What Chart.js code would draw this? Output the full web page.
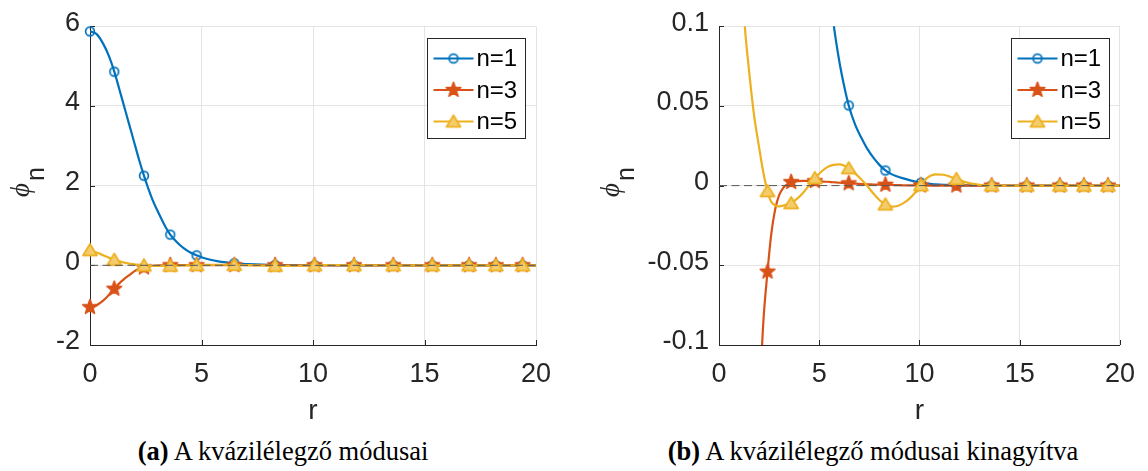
<!DOCTYPE html>
<html>
<head>
<meta charset="utf-8">
<script src="https://cdn.jsdelivr.net/npm/chart.js@4.4.1/dist/chart.umd.min.js"></script>
<style>
  html, body { margin: 0; padding: 0; background: #ffffff; }
  body { width: 1148px; height: 471px; position: relative; overflow: hidden; }
  .panel { position: absolute; top: 0; width: 574px; height: 432px; }
  #wrapA { left: 0; }
  #wrapB { left: 574px; }
  .cap {
    position: absolute; top: 436px; white-space: nowrap; color: #000;
    font-family: 'Liberation Serif', 'Times New Roman', serif; font-size: 26.5px;
    transform: translateX(-50%);
  }
  .cap b { font-weight: bold; }
</style>
</head>
<body>
<div class="panel" id="wrapA"><canvas id="chartA" width="574" height="432"></canvas></div>
<div class="panel" id="wrapB"><canvas id="chartB" width="574" height="432"></canvas></div>
<div class="cap" style="left:283px"><b>(a)</b> A kvázilélegző módusai</div>
<div class="cap" style="left:873px"><b>(b)</b> A kvázilélegző módusai kinagyítva</div>

<script>
// radial coordinate of the sampled profiles
const R = [
  0, 0.3, 0.6, 0.85, 1.09, 1.3, 1.5, 1.75, 2.0, 2.2,
  2.42, 2.6, 2.8, 3.0, 3.2, 3.4, 3.6, 3.9, 4.2, 4.5,
  4.78, 5.1, 5.4, 5.7, 6.0, 6.25, 6.47, 6.8, 7.1, 7.4,
  7.7, 8.0, 8.3, 8.6, 8.9, 9.2, 9.5, 9.8, 10.07, 10.4,
  10.8, 11.2, 11.5, 11.84, 12.2, 12.6, 13.0, 13.6, 14.5, 15.35,
  16.2, 17.0, 18.2, 19.4, 20
];
// mode n=1
const PHI1 = [
  5.87, 5.80, 5.55, 5.25, 4.86, 4.45, 4.05, 3.55, 3.05, 2.65,
  2.25, 1.95, 1.65, 1.40, 1.17, 0.95, 0.77, 0.58, 0.43, 0.32,
  0.25, 0.185, 0.14, 0.103, 0.078, 0.062, 0.0503, 0.038, 0.030, 0.023,
  0.0175, 0.013, 0.0095, 0.0072, 0.0057, 0.0045, 0.0034, 0.0025, 0.0018, 0.0012,
  0.0008, 0.0005, 0.0004, 0.0003, 0.0002, 0.0001, 0.0001, 0, 0, 0,
  0, 0, 0, 0, 0
];
// mode n=3
const PHI3 = [
  -1.05, -1.00, -0.88, -0.74, -0.59, -0.46, -0.36, -0.25, -0.145, -0.088,
  -0.054, -0.031, -0.015, -0.006, -0.0015, 0.0008, 0.0022, 0.0028, 0.003, 0.003,
  0.0028, 0.0026, 0.0024, 0.0021, 0.0018, 0.0016, 0.0014, 0.0012, 0.001, 0.0008,
  0.0007, 0.0006, 0.0005, 0.0004, 0.0003, 0.0002, 0.0002, 0.0001, 0.0001, 0,
  0, 0, 0, 0, 0, 0, 0, 0, 0, 0,
  0, 0, 0, 0, 0
];
// mode n=5
const PHI5 = [
  0.38, 0.32, 0.25, 0.19, 0.14, 0.098, 0.072, 0.044, 0.024, 0.009,
  -0.0035, -0.0100, -0.0125, -0.0130, -0.0126, -0.0118, -0.0110, -0.0082, -0.0045, 0.0003,
  0.0047, 0.0087, 0.0116, 0.0130, 0.0133, 0.0125, 0.0109, 0.0075, 0.0038, -0.0003,
  -0.0050, -0.0090, -0.0118, -0.0132, -0.0128, -0.0110, -0.0082, -0.0042, 0.0002, 0.0050,
  0.0071, 0.0068, 0.0057, 0.0042, 0.0026, 0.0012, 0.0005, 0.0001, 0, 0,
  0, 0, 0, 0, 0
];
// grid nodes that carry a marker
const MARK_R = [0, 1.09, 2.42, 3.6, 4.78, 6.47, 8.3, 10.07, 11.84, 13.6, 15.35, 17.0, 18.2, 19.4];

const SERIES_NAMES = ['n=1', 'n=3', 'n=5'];
const X_TICKS = [0, 5, 10, 15, 20];
const Y_TICKS_A = [-2, 0, 2, 4, 6];
const Y_LABELS_A = ['-2', '0', '2', '4', '6'];
const Y_TICKS_B = [-0.1, -0.05, 0, 0.05, 0.1];
const Y_LABELS_B = ['-0.1', '-0.05', '0', '0.05', '0.1'];

const COLORS = ['#0072BD', '#D95319', '#EDB120'];
const FILLS = [null, '#D95319', '#F4CC6C'];
const SHAPES = ['circle', 'star', 'triangle'];
const SANS = "'Liberation Sans', Arial, Helvetica, sans-serif";
const INK = '#262626';

function markerCanvas(kind, color, fill) {
  const s = 22, c = document.createElement('canvas');
  c.width = s; c.height = s;
  const g = c.getContext('2d');
  g.translate(s / 2, s / 2);
  g.strokeStyle = color; g.lineWidth = 1.7; g.lineJoin = 'round';
  g.beginPath();
  if (kind === 'circle') {
    g.arc(0, 0, 4.4, 0, Math.PI * 2);
  } else if (kind === 'star') {
    for (let k = 0; k < 10; k++) {
      const rad = k % 2 === 0 ? 7.6 : 3.1;
      const ang = -Math.PI / 2 + k * Math.PI / 5;
      const px = rad * Math.cos(ang), py = rad * Math.sin(ang);
      if (k === 0) g.moveTo(px, py); else g.lineTo(px, py);
    }
    g.closePath();
  } else {
    g.moveTo(0, -6.3); g.lineTo(7, 5.3); g.lineTo(-7, 5.3); g.closePath();
  }
  if (fill) { g.fillStyle = fill; g.fill(); }
  g.stroke();
  return c;
}
const MARKERS = SHAPES.map((k, i) => markerCanvas(k, COLORS[i], FILLS[i]));
const VALUES = [PHI1, PHI3, PHI5];

// axis decorations: inward ticks, boxed legend, y label with subscript
const panelDecor = {
  id: 'panelDecor',
  beforeDatasetsDraw(chart) {
    const { ctx, chartArea: a, scales } = chart;
    ctx.save();
    ctx.strokeStyle = INK; ctx.lineWidth = 1;
    scales.x.ticks.forEach(t => {
      const x = Math.round(scales.x.getPixelForValue(t.value)) + 0.5;
      ctx.beginPath(); ctx.moveTo(x, a.bottom); ctx.lineTo(x, a.bottom - 5); ctx.stroke();
    });
    scales.y.ticks.forEach(t => {
      const y = Math.round(scales.y.getPixelForValue(t.value)) + 0.5;
      ctx.beginPath(); ctx.moveTo(a.left, y); ctx.lineTo(a.left + 5, y); ctx.stroke();
    });
    ctx.restore();
  },
  afterDatasetsDraw(chart, args, opts) {
    const { ctx, chartArea: a } = chart;
    ctx.save();
    // legend box
    const w = 98, h = 100;
    const bx = Math.round(a.right - 11 - w) + 0.5, by = Math.round(a.top + 12) + 0.5;
    ctx.fillStyle = '#ffffff';
    ctx.fillRect(bx, by, w, h);
    ctx.strokeStyle = INK; ctx.lineWidth = 1;
    ctx.strokeRect(bx, by, w, h);
    SERIES_NAMES.forEach((name, i) => {
      const y = by + 20 + i * 31.5;
      ctx.strokeStyle = COLORS[i]; ctx.lineWidth = 2.2;
      ctx.beginPath(); ctx.moveTo(bx + 6, y); ctx.lineTo(bx + 46, y); ctx.stroke();
      const m = MARKERS[i];
      ctx.drawImage(m, bx + 26 - m.width / 2, y - m.height / 2);
      ctx.fillStyle = '#000';
      ctx.font = '24px ' + SANS;
      ctx.textBaseline = 'middle'; ctx.textAlign = 'left';
      ctx.fillText(name, bx + 49, y + 1);
    });
    // rotated y label: phi with subscript n
    ctx.translate(opts.labelX, opts.labelY);
    ctx.rotate(-Math.PI / 2);
    ctx.fillStyle = INK;
    ctx.textBaseline = 'alphabetic'; ctx.textAlign = 'left';
    ctx.font = "italic 27px 'Liberation Serif', 'DejaVu Serif', serif";
    ctx.fillText('\u03D5', 0, 0);
    const pw = ctx.measureText('\u03D5').width;
    ctx.font = '25px ' + SANS;
    ctx.fillText('n', pw + 2, 15);
    ctx.restore();
  }
};

function buildPanel(id, yTicks, yLabels, yAxisWidth, padRight, labelX) {
  const datasets = [];
  datasets.push({
    data: [{ x: 0, y: 0 }, { x: 20, y: 0 }],
    borderColor: '#555555', borderWidth: 1, borderDash: [8, 4.5],
    pointRadius: 0, order: 0, clip: 0
  });
  VALUES.forEach((vals, i) => {
    datasets.push({
      data: R.map((r, k) => ({ x: r, y: vals[k] })),
      borderColor: COLORS[i], borderWidth: 2.2, pointRadius: 0,
      cubicInterpolationMode: 'monotone', clip: 0, order: 2 * (2 - i) + 2
    });
    datasets.push({
      data: MARK_R.map(r => ({ x: r, y: vals[R.indexOf(r)] })),
      showLine: false, pointStyle: MARKERS[i], pointRadius: 6,
      clip: false, order: 2 * (2 - i) + 1
    });
  });
  return new Chart(document.getElementById(id), {
    type: 'line',
    data: { datasets },
    options: {
      responsive: false, animation: false, events: [],
      layout: { padding: { left: 0, right: padRight, top: 16, bottom: 0 } },
      elements: { line: { capBezierPoints: false } },
      plugins: {
        legend: { display: false }, tooltip: { enabled: false },
        panelDecor: { labelX: labelX, labelY: 197 }
      },
      scales: {
        x: {
          type: 'linear', min: 0, max: 20,
          afterBuildTicks: s => { s.ticks = X_TICKS.map(v => ({ value: v })); },
          afterFit: s => { s.height = 87; },
          grid: { color: '#e4e4e4', lineWidth: 1, drawTicks: false },
          border: { display: true, color: INK, width: 1 },
          ticks: { color: INK, font: { family: SANS, size: 27 }, padding: 13, maxRotation: 0, autoSkip: false },
          title: { display: true, text: 'r', color: INK, font: { family: SANS, size: 28 }, padding: { top: 0, bottom: 4 } }
        },
        y: {
          type: 'linear', min: yTicks[0], max: yTicks[yTicks.length - 1],
          afterBuildTicks: s => { s.ticks = yTicks.map(v => ({ value: v })); },
          afterFit: s => { s.width = yAxisWidth; },
          grid: { color: '#e4e4e4', lineWidth: 1, drawTicks: false },
          border: { display: true, color: INK, width: 1 },
          ticks: { color: INK, font: { family: SANS, size: 27 }, padding: 10, autoSkip: false,
                   labelOffset: -3, callback: (v, i) => yLabels[i] }
        }
      }
    },
    plugins: [panelDecor]
  });
}

buildPanel('chartA', Y_TICKS_A, Y_LABELS_A, 90, 38, 29);
buildPanel('chartB', Y_TICKS_B, Y_LABELS_B, 145, 21, 45);
</script>
</body>
</html>
